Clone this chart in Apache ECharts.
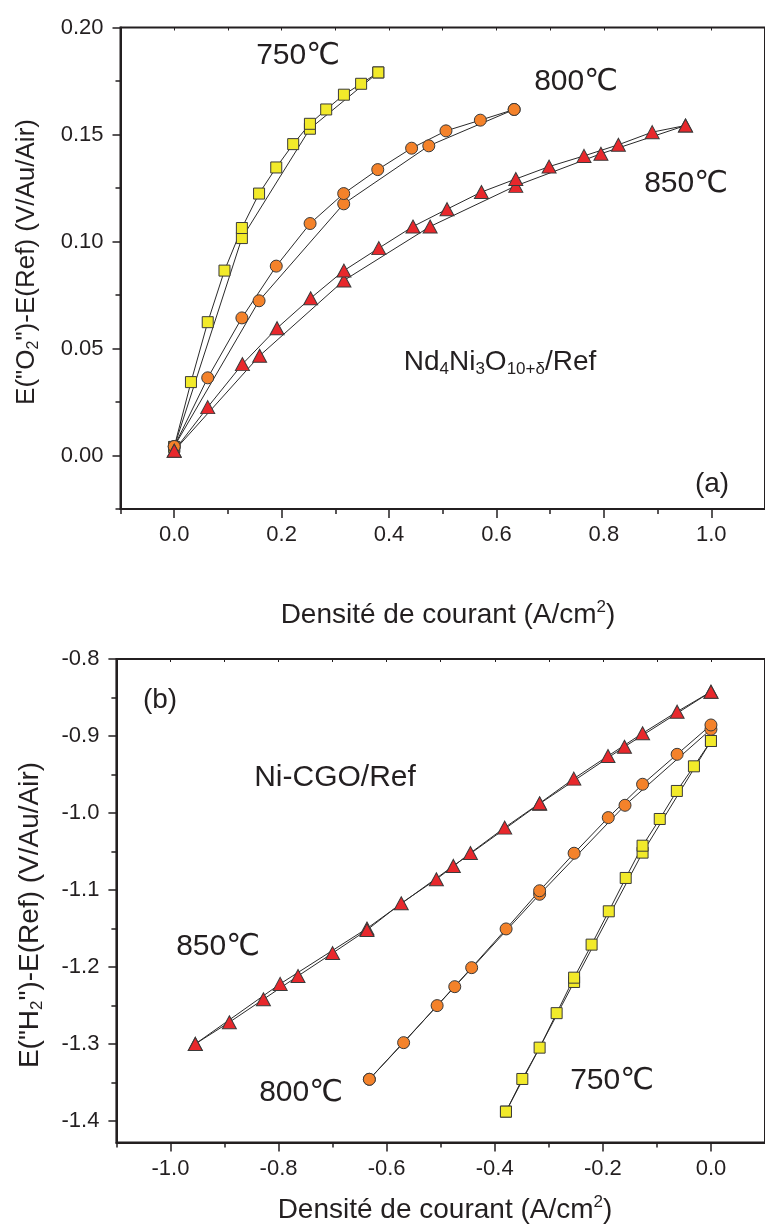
<!DOCTYPE html>
<html><head><meta charset="utf-8">
<script src="https://cdn.jsdelivr.net/npm/echarts@6/dist/echarts.min.js"></script>
<style>html,body{margin:0;padding:0;background:#fff}#c{width:765px;height:1232px}</style>
</head><body><div id="c"></div>
<script>
// ---------- Panel (a): cathode Nd4Ni3O10+d / Ref ----------
const a750UpX = [0, 0.0312, 0.0624, 0.0936, 0.126, 0.158, 0.190, 0.2215, 0.2527, 0.283, 0.316, 0.348, 0.380];
const a750UpY = [0.0040, 0.0343, 0.0623, 0.0864, 0.1063, 0.1224, 0.1346, 0.1455, 0.1550, 0.1617, 0.1686, 0.1737, 0.1790];
const a750DnX = [0, 0.126, 0.2527, 0.380];
const a750DnY = [0.0040, 0.1016, 0.1527, 0.1790];
const a800UpX = [0, 0.0624, 0.126, 0.190, 0.253, 0.3156, 0.379, 0.442, 0.506, 0.570, 0.633];
const a800UpY = [0.0042, 0.0363, 0.0643, 0.0885, 0.1084, 0.1224, 0.1336, 0.1436, 0.1517, 0.1567, 0.1617];
const a800DnX = [0, 0.158, 0.3156, 0.474, 0.633];
const a800DnY = [0.0042, 0.0723, 0.1176, 0.1447, 0.1617];
const a850UpX = [0, 0.0624, 0.127, 0.1915, 0.254, 0.316, 0.381, 0.4446, 0.508, 0.572, 0.636, 0.698, 0.763, 0.827, 0.890, 0.952];
const a850UpY = [0.0022, 0.0226, 0.0427, 0.0595, 0.0735, 0.0864, 0.0969, 0.1070, 0.1151, 0.1231, 0.1292, 0.1350, 0.1400, 0.1452, 0.1511, 0.1542];
const a850DnX = [0, 0.159, 0.316, 0.4765, 0.636, 0.7945, 0.952];
const a850DnY = [0.0022, 0.0466, 0.0818, 0.1070, 0.1260, 0.1410, 0.1542];

// ---------- Panel (b): anode Ni-CGO / Ref ----------
const b750UpX = [0, -0.0315, -0.0631, -0.0947, -0.1265, -0.1577, -0.189, -0.2208, -0.2532, -0.2855, -0.317, -0.349, -0.3793];
const b750UpY = [-0.9065, -0.9394, -0.9714, -1.0078, -1.0425, -1.0844, -1.1277, -1.1710, -1.2139, -1.2600, -1.3048, -1.3455, -1.3879];
const b750DnX = [0, -0.1265, -0.2532, -0.3793];
const b750DnY = [-0.9065, -1.0515, -1.2195, -1.3879];
const b800UpX = [0, -0.0626, -0.1265, -0.190, -0.2532, -0.317, -0.379, -0.4427, -0.5066, -0.5686, -0.632];
const b800UpY = [-0.8857, -0.9238, -0.9627, -1.0060, -1.0523, -1.1010, -1.1506, -1.2009, -1.2502, -1.2983, -1.3459];
const b800DnX = [0, -0.159, -0.317, -0.474, -0.632];
const b800DnY = [-0.8913, -0.9900, -1.1056, -1.2256, -1.3459];
const b850UpX = [0, -0.0626, -0.1265, -0.1905, -0.2537, -0.317, -0.3816, -0.445, -0.508, -0.573, -0.6364, -0.700, -0.764, -0.828, -0.891, -0.954];
const b850UpY = [-0.8425, -0.8684, -0.8965, -0.9260, -0.9554, -0.9874, -1.0190, -1.0520, -1.0861, -1.1173, -1.1520, -1.1820, -1.2117, -1.2420, -1.2718, -1.3000];
const b850DnX = [0, -0.160, -0.317, -0.4766, -0.6364, -0.797, -0.954];
const b850DnY = [-0.8425, -0.9140, -0.9880, -1.0688, -1.1500, -1.2220, -1.3000];

// ---------- Tick values ----------
const aXMajor = [0.0, 0.2, 0.4, 0.6, 0.8, 1.0];
const aXMinor = [-0.1, 0.1, 0.3, 0.5, 0.7, 0.9];
const aYMajor = [0.00, 0.05, 0.10, 0.15, 0.20];
const aYMinor = [-0.025, 0.025, 0.075, 0.125, 0.175];
const bXMajor = [-1.0, -0.8, -0.6, -0.4, -0.2, 0.0];
const bXMinor = [-1.1, -0.9, -0.7, -0.5, -0.3, -0.1];
const bYMajor = [-1.4, -1.3, -1.2, -1.1, -1.0, -0.9, -0.8];
const bYMinor = [-1.35, -1.25, -1.15, -1.05, -0.95, -0.85];
const aTopTicks = [0.0, 0.1, 0.2, 0.3, 0.4, 0.5, 0.6, 0.7, 0.8, 0.9, 1.0];
const bTopTicks = [-1.0, -0.9, -0.8, -0.7, -0.6, -0.5, -0.4, -0.3, -0.2, -0.1, 0.0];

const FONT = '"Liberation Sans", Arial, "DejaVu Sans", sans-serif';
const INK = '#231f20';
const C750 = '#f2ea2a', C800 = '#f4822a', C850 = '#e8282c';

function zip(xs, ys) { return xs.map((x, i) => [x, ys[i]]); }

function axisPair(kind, grid, min, max, major, minor, dec, pos) {
  const isX = kind === 'x';
  const base = { gridIndex: grid, type: 'value', min: min, max: max, position: pos, splitLine: { show: false } };
  const main = Object.assign({}, base, {
    axisLine: { show: true, onZero: false, lineStyle: { color: INK, width: 2 } },
    axisTick: { show: true, customValues: major, length: isX ? 9 : 8, lineStyle: { color: INK, width: 1.5 } },
    axisLabel: { show: true, customValues: major, formatter: v => v.toFixed(dec), fontFamily: FONT, fontSize: 22, color: INK, margin: isX ? 15 : 17 }
  });
  const sub = Object.assign({}, base, {
    axisLine: { show: false, onZero: false },
    axisTick: { show: true, customValues: minor, length: 5, lineStyle: { color: INK, width: 1.5 } },
    axisLabel: { show: false }
  });
  return [main, sub];
}

function topAxis(grid, min, max, ticks) {
  return { gridIndex: grid, type: 'value', min: min, max: max, position: 'top', splitLine: { show: false },
    axisLine: { show: false, onZero: false }, axisLabel: { show: false },
    axisTick: { show: true, inside: true, customValues: ticks, length: 3, lineStyle: { color: INK, width: 1 } } };
}

const xAxes = [].concat(
  axisPair('x', 0, -0.1, 1.1, aXMajor, aXMinor, 1, 'bottom'),
  [topAxis(0, -0.1, 1.1, aTopTicks)],
  axisPair('x', 1, -1.1, 0.1, bXMajor, bXMinor, 1, 'bottom'),
  [topAxis(1, -1.1, 0.1, bTopTicks)]
);
const yAxes = [].concat(
  axisPair('y', 0, -0.025, 0.20, aYMajor, aYMinor, 2, 'left'),
  axisPair('y', 1, -1.428, -0.8, bYMajor, bYMinor, 1, 'left')
);

function ser(data, xi, yi, symbol, size, color) {
  return { type: 'line', xAxisIndex: xi, yAxisIndex: yi, data: data, symbol: symbol, symbolSize: size,
    showSymbol: true, showAllSymbol: true, animation: false, silent: true,
    lineStyle: { color: '#2a2a2a', width: 1 },
    itemStyle: { color: color, borderColor: '#3a3a3a', borderWidth: 1 } };
}
const SQ = 11, CI = 12, TR = [14, 13];
const series = [
  ser(zip(a750DnX, a750DnY), 0, 0, 'rect', SQ, C750),
  ser(zip(a750UpX, a750UpY), 0, 0, 'rect', SQ, C750),
  ser(zip(a800DnX, a800DnY), 0, 0, 'circle', CI, C800),
  ser(zip(a800UpX, a800UpY), 0, 0, 'circle', CI, C800),
  ser(zip(a850DnX, a850DnY), 0, 0, 'triangle', TR, C850),
  ser(zip(a850UpX, a850UpY), 0, 0, 'triangle', TR, C850),
  ser(zip(b750DnX, b750DnY), 3, 2, 'rect', SQ, C750),
  ser(zip(b750UpX, b750UpY), 3, 2, 'rect', SQ, C750),
  ser(zip(b800DnX, b800DnY), 3, 2, 'circle', CI, C800),
  ser(zip(b800UpX, b800UpY), 3, 2, 'circle', CI, C800),
  ser(zip(b850DnX, b850DnY), 3, 2, 'triangle', TR, C850),
  ser(zip(b850UpX, b850UpY), 3, 2, 'triangle', TR, C850)
];

function label(text, x, y, size, extra) {
  return Object.assign({ type: 'text', x: x, y: y, silent: true,
    style: { text: text, fontFamily: FONT, fontSize: size, fill: INK, align: 'center', verticalAlign: 'middle' } }, extra || {});
}
function richLabel(text, x, y, size, rot, align) {
  return { type: 'text', x: x, y: y, rotation: rot || 0, silent: true,
    style: { text: text, align: align || 'center', verticalAlign: 'middle', fill: INK, fontFamily: FONT, fontSize: size,
      rich: {
        m: { fontFamily: FONT, fontSize: size, fill: INK, lineHeight: size + 4 },
        s: { fontFamily: FONT, fontSize: Math.round(size * 0.62), fill: INK, verticalAlign: 'bottom', lineHeight: Math.round(size * 0.5) },
        u: { fontFamily: FONT, fontSize: Math.round(size * 0.62), fill: INK, verticalAlign: 'top', lineHeight: Math.round(size * 0.5) }
      } } };
}

const graphics = [
  label('750℃', 298, 56, 30),
  label('800℃', 576, 82, 30),
  label('850℃', 686, 184, 30),
  richLabel('{m|Nd}{s|4}{m|Ni}{s|3}{m|O}{s|10+δ}{m|/Ref}', 500, 362, 28),
  label('(a)', 712, 484, 28),
  richLabel('{m|Densité de courant (A/cm}{u|2}{m|)}', 448, 615, 28),
  richLabel('{m|E("O}{s|2}{m|")-E(Ref) (V/Au/Air)}', 27, 262, 26, Math.PI / 2),
  label('(b)', 160, 700, 28),
  label('Ni-CGO/Ref', 335, 778, 30),
  label('850℃', 218, 947, 30),
  label('800℃', 301, 1093, 30),
  label('750℃', 612, 1081, 30),
  richLabel('{m|Densité de courant (A/cm}{u|2}{m|)}', 445, 1210, 28),
  richLabel('{m|E("H}{s|2}{m|")-E(Ref) (V/Au/Air)}', 30, 915, 28, Math.PI / 2)
];

const chart = echarts.init(document.getElementById('c'), null, { renderer: 'canvas' });
chart.setOption({
  backgroundColor: '#ffffff',
  animation: false,
  grid: [
    { left: 120.5, top: 27.5, width: 654, height: 481.5, show: true, borderColor: INK, borderWidth: 2, backgroundColor: 'transparent', containLabel: false },
    { left: 116.4, top: 659, width: 656.4, height: 483.5, show: true, borderColor: INK, borderWidth: 2, backgroundColor: 'transparent', containLabel: false }
  ],
  xAxis: xAxes,
  yAxis: yAxes,
  series: series,
  graphic: graphics
});
</script></body></html>
